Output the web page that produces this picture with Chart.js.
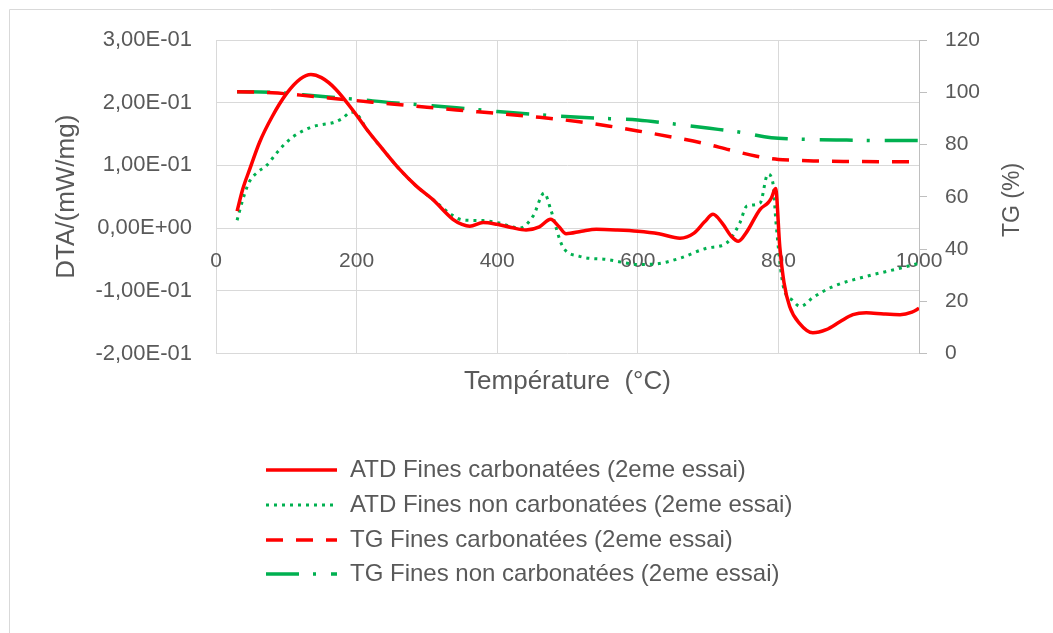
<!DOCTYPE html>
<html><head><meta charset="utf-8">
<script src="https://cdn.jsdelivr.net/npm/chart.js@4/dist/chart.umd.min.js"></script>
<style>html,body{margin:0;padding:0;background:#fff;overflow:hidden}</style>
</head><body>
<canvas id="c" width="1053" height="633"></canvas>
<script>
// ---- data ----
const seriesNames = [
  'ATD Fines carbonatées (2eme essai)',
  'ATD Fines non carbonatées (2eme essai)',
  'TG Fines carbonatées (2eme essai)',
  'TG Fines non carbonatées (2eme essai)'
];
const atdCarbT = [30,38,48,62,80,100,120,135,150,170,200,214,237,261,285,308,337,350,361,380,400,420,441,460,476,488,498,520,541,570,600,630,660,680,695,707,720,733,743,755,774,785,790,796,802,808,816,830,849,868,888,906,925,950,973,990,1000];
const atdCarbV = [0.027,0.062,0.094,0.137,0.178,0.214,0.238,0.245,0.240,0.222,0.180,0.158,0.126,0.094,0.067,0.046,0.014,0.006,0.003,0.009,0.006,0.001,-0.003,0.002,0.014,0.002,-0.009,-0.005,-0.002,-0.003,-0.005,-0.009,-0.016,-0.008,0.010,0.022,0.008,-0.013,-0.021,-0.006,0.030,0.040,0.048,0.063,-0.030,-0.087,-0.125,-0.152,-0.167,-0.162,-0.149,-0.138,-0.135,-0.137,-0.138,-0.134,-0.128];
const atdNonT = [30,38,47,60,72,85,95,110,133,150,166,180,192,202,214,237,261,285,308,337,351,380,403,432,451,467,476,493,517,555,603,627,660,698,726,745,755,774,785,792,797,807,820,831,850,878,925,973,1000];
const atdNonV = [0.0125,0.045,0.073,0.090,0.100,0.118,0.131,0.146,0.160,0.165,0.168,0.175,0.185,0.180,0.158,0.126,0.094,0.067,0.046,0.020,0.013,0.012,0.008,0.000,0.019,0.056,0.030,-0.029,-0.045,-0.050,-0.058,-0.057,-0.048,-0.032,-0.024,0.008,0.035,0.040,0.086,0.073,0.003,-0.093,-0.115,-0.125,-0.110,-0.093,-0.077,-0.064,-0.056];
const tgCarbT = [30,80,120,160,200,250,300,342,400,460,517,560,600,650,693,730,769,800,821,850,900,950,1000];
const tgCarbV = [100.2,99.8,98.9,97.8,96.8,95.5,94.3,93.2,91.9,90.4,88.7,87.0,85.2,82.8,80.5,78.0,75.5,74.3,74.0,73.7,73.5,73.4,73.4];
const tgNonT = [30,80,120,160,200,250,300,342,400,460,517,560,600,650,702,750,780,800,850,897,950,1000];
const tgNonV = [100.2,100.0,99.1,98.2,97.3,96.0,95.0,94.1,92.6,91.4,90.4,89.9,89.4,87.9,86.2,84.5,83.0,82.4,81.9,81.7,81.5,81.5];
const xTickValues = [0,200,400,600,800,1000];
const xTickLabels = ['0','200','400','600','800','1000'];
const dtaTickValues = [-0.2,-0.1,0,0.1,0.2,0.3];
const dtaTickLabels = ['-2,00E-01','-1,00E-01','0,00E+00','1,00E-01','2,00E-01','3,00E-01'];
const tgTickValues = [0,20,40,60,80,100,120];
const tgTickLabels = ['0','20','40','60','80','100','120'];

const FONT = '"Liberation Sans", Arial, sans-serif';
const TXT = '#595959';
const pts = (t, v) => t.map((x, i) => ({x: x, y: v[i]}));

const extras = {
  id: 'extras',
  afterDraw(chart) {
    const ctx = chart.ctx;
    ctx.save();
    ctx.strokeStyle = '#d9d9d9'; ctx.lineWidth = 1; ctx.setLineDash([]);
    ctx.beginPath(); ctx.moveTo(9.5, 633); ctx.lineTo(9.5, 9.5); ctx.lineTo(1053, 9.5); ctx.stroke();
    ctx.fillStyle = TXT; ctx.font = '23px ' + FONT;
    ctx.textAlign = 'center'; ctx.textBaseline = 'middle';
    ctx.translate(1013, 200); ctx.rotate(-Math.PI / 2);
    ctx.fillText('TG (%)', 0, 0);
    ctx.restore();
    ctx.save();
    const rows = [470, 505, 540, 574];
    chart.data.datasets.forEach((ds, i) => {
      const y = rows[i];
      ctx.strokeStyle = ds.borderColor; ctx.lineWidth = ds.borderWidth;
      ctx.setLineDash(ds.borderDash || []); ctx.lineCap = 'butt';
      ctx.beginPath(); ctx.moveTo(266, y); ctx.lineTo(337, y); ctx.stroke();
      ctx.setLineDash([]);
      ctx.fillStyle = TXT; ctx.font = '24px ' + FONT;
      ctx.textAlign = 'left'; ctx.textBaseline = 'middle';
      ctx.fillText(ds.label, 350, y);
    });
    ctx.restore();
  }
};

new Chart(document.getElementById('c'), {
  type: 'line',
  data: {
    datasets: [
      {label: seriesNames[0], data: pts(atdCarbT, atdCarbV), yAxisID: 'y', borderColor: '#ff0000', borderWidth: 3.5, pointRadius: 0, cubicInterpolationMode: 'monotone'},
      {label: seriesNames[1], data: pts(atdNonT, atdNonV), yAxisID: 'y', borderColor: '#00b050', borderWidth: 3, borderDash: [3,5], pointRadius: 0, cubicInterpolationMode: 'monotone'},
      {label: seriesNames[2], data: pts(tgCarbT, tgCarbV), yAxisID: 'yTG', borderColor: '#ff0000', borderWidth: 3.5, borderDash: [17,13], pointRadius: 0, cubicInterpolationMode: 'monotone'},
      {label: seriesNames[3], data: pts(tgNonT, tgNonV), yAxisID: 'yTG', borderColor: '#00b050', borderWidth: 3.5, borderDash: [33,14,3,15], pointRadius: 0, cubicInterpolationMode: 'monotone'}
    ]
  },
  options: {
    responsive: false, animation: false, devicePixelRatio: 1,
    layout: {padding: {top: 40, left: 0, right: 0, bottom: 0}},
    plugins: {legend: {display: false}, tooltip: {enabled: false}},
    scales: {
      x: {
        type: 'linear', min: 0, max: 1000, position: {y: 0},
        afterBuildTicks: s => { s.ticks = xTickValues.map(v => ({value: v})); },
        grid: {color: '#d9d9d9', drawTicks: false, lineWidth: 1},
        border: {display: false},
        ticks: {color: TXT, font: {family: FONT, size: 21}, padding: 21, maxRotation: 0, autoSkip: false, callback: (v, i) => xTickLabels[i]}
      },
      xTitle: {
        type: 'linear', min: 0, max: 1000, position: 'bottom',
        grid: {display: false}, border: {display: false}, ticks: {display: false},
        title: {display: true, text: 'Température  (°C)', color: TXT, font: {family: FONT, size: 26}, padding: {top: 0, bottom: 236}},
        afterFit: s => { s.height = 279.5; }
      },
      y: {
        type: 'linear', position: 'left', min: -0.2, max: 0.3,
        afterBuildTicks: s => { s.ticks = dtaTickValues.map(v => ({value: v})); },
        grid: {color: '#d9d9d9', drawTicks: false, lineWidth: 1},
        border: {display: false},
        ticks: {color: TXT, font: {family: FONT, size: 22}, padding: 24, callback: (v, i) => dtaTickLabels[i]},
        title: {display: true, text: 'DTA/(mW/mg)', color: TXT, font: {family: FONT, size: 26}, padding: {top: 51, bottom: 0}},
        afterFit: s => { s.width = 216; }
      },
      yTG: {
        type: 'linear', position: 'right', min: 0, max: 120,
        afterBuildTicks: s => { s.ticks = tgTickValues.map(v => ({value: v})); },
        grid: {drawOnChartArea: false, color: '#bfbfbf', tickLength: 8},
        border: {display: true, color: '#bfbfbf', width: 1},
        ticks: {color: TXT, font: {family: FONT, size: 21}, padding: 18, callback: (v, i) => tgTickLabels[i]},
        afterFit: s => { s.width = 134; }
      }
    }
  },
  plugins: [extras]
});
</script>
</body></html>
